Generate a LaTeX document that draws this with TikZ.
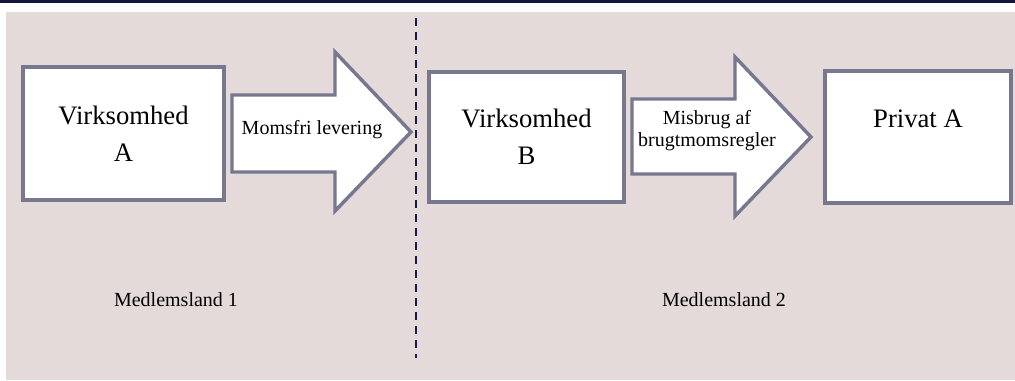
\documentclass[tikz,border=0pt]{standalone}
\usepackage{fontspec}
\setmainfont{Liberation Serif}
\definecolor{bandblue}{HTML}{14143C}
\definecolor{landpink}{HTML}{E3DAD9}
\definecolor{frame}{HTML}{77778F}
\definecolor{grensen}{HTML}{1A1A48}
\begin{document}
\begin{tikzpicture}[x=0.75pt,y=-0.75pt]
  \tikzstyle{box}=[rectangle,draw=frame,fill=white,line width=2.6pt,align=center,
                   font=\fontsize{20}{28}\selectfont,inner sep=0pt]
  \tikzstyle{blockarrow}=[draw=frame,fill=white,line width=2.6pt,line join=miter]
  \tikzstyle{arrowtext}=[align=center,font=\fontsize{15}{16.5}\selectfont,inner sep=0pt]
  \tikzstyle{land}=[font=\fontsize{15}{18}\selectfont,anchor=base,inner sep=0pt]
  \useasboundingbox (0,0) rectangle (1015,381);
  \fill[white] (0,0) rectangle (1015,381);
  \fill[bandblue] (0,0) rectangle (1015,3.5);
  \fill[landpink] (6,12) rectangle (1015,380);

  \node[box,minimum width=150.75pt,minimum height=99.75pt] (V_A) at (123.5,133.5)
        {Virksomhed\\A};
  \draw[blockarrow] (232,95) -- (335,95) -- (335,52) -- (411,132) -- (335,211)
        -- (335,172) -- (232,172) -- cycle;
  \node[arrowtext] (L_1) at (312,129.5) {Momsfri levering};

  \coordinate (G_top) at (416,18);
  \coordinate (G_bot) at (416,358);
  \draw[grensen,line width=1.5pt,dash pattern=on 6pt off 4.5pt] (G_top) -- (G_bot);

  \node[box,minimum width=146.25pt,minimum height=97.5pt] (V_B) at (526.5,137)
        {Virksomhed\\B};
  \draw[blockarrow] (632,99) -- (735,99) -- (735,57) -- (811,137) -- (735,216)
        -- (735,174) -- (632,174) -- cycle;
  \node[arrowtext] (L_2) at (707,131) {Misbrug af\\brugtmomsregler};

  \node[box,minimum width=139.5pt,minimum height=99pt] (P_A) at (918,137)
        {Privat A\\\mbox{}};

  \node[land] (M_1) at (176,307) {Medlemsland 1};
  \node[land] (M_2) at (724,307) {Medlemsland 2};
\end{tikzpicture}
\end{document}
